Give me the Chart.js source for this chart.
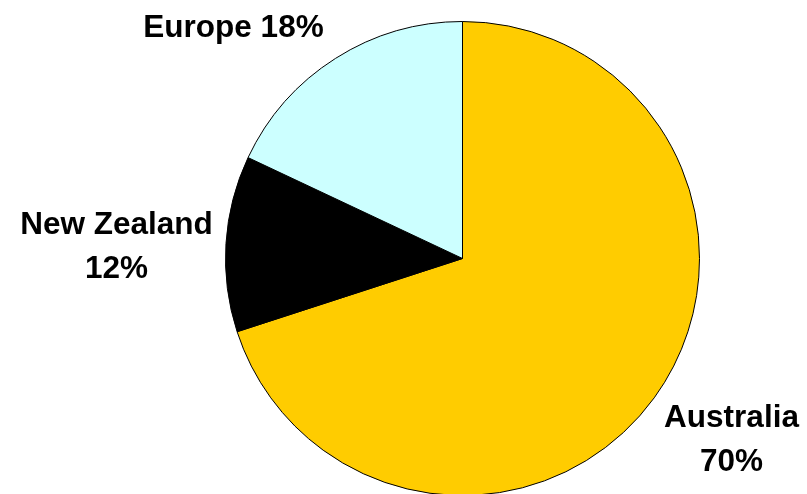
<!DOCTYPE html>
<html>
<head>
<meta charset="utf-8">
<script src="https://cdn.jsdelivr.net/npm/chart.js@4/dist/chart.umd.min.js"></script>
<style>
  html,body{margin:0;padding:0;background:#fff;overflow:hidden;}
  #wrap{position:absolute;left:0;top:0;width:807px;height:500px;}
</style>
</head>
<body>
<div id="wrap"><canvas id="pie" width="807" height="500"></canvas></div>
<script>
// data
const regions=["Australia","New Zealand","Europe"];
const shares=[70,12,18];
const sliceColors=["#FFCC00","#000000","#CCFFFF"];

// label text lines + where they sit (px, relative to pie centre)
const labelLines=[["Australia","70%"],["New Zealand","12%"],["Europe 18%"]];
const labelOffsets=[[269,168],[-346,-25],[-229,-222]];

const labelPlugin={
  id:"sliceLabels",
  afterDatasetsDraw(chart){
    const ctx=chart.ctx;
    const arc=chart.getDatasetMeta(0).data[0];
    ctx.save();
    ctx.font="bold 31.5px 'Liberation Sans', Arial, sans-serif";
    ctx.fillStyle="#000";
    ctx.textAlign="center";
    ctx.textBaseline="alphabetic";
    labelLines.forEach((lines,i)=>{
      const [dx,dy]=labelOffsets[i];
      lines.forEach((t,j)=>ctx.fillText(t,arc.x+dx,arc.y+dy+j*44));
    });
    ctx.restore();
  }
};

new Chart(document.getElementById("pie"),{
  type:"pie",
  data:{
    labels:regions,
    datasets:[{data:shares,backgroundColor:sliceColors,borderColor:"#000",borderWidth:1}]
  },
  options:{
    responsive:false,
    animation:false,
    devicePixelRatio:1,
    layout:{padding:{top:21,bottom:4,left:225,right:107}},
    plugins:{legend:{display:false},tooltip:{enabled:false}}
  },
  plugins:[labelPlugin]
});
</script>
</body>
</html>
